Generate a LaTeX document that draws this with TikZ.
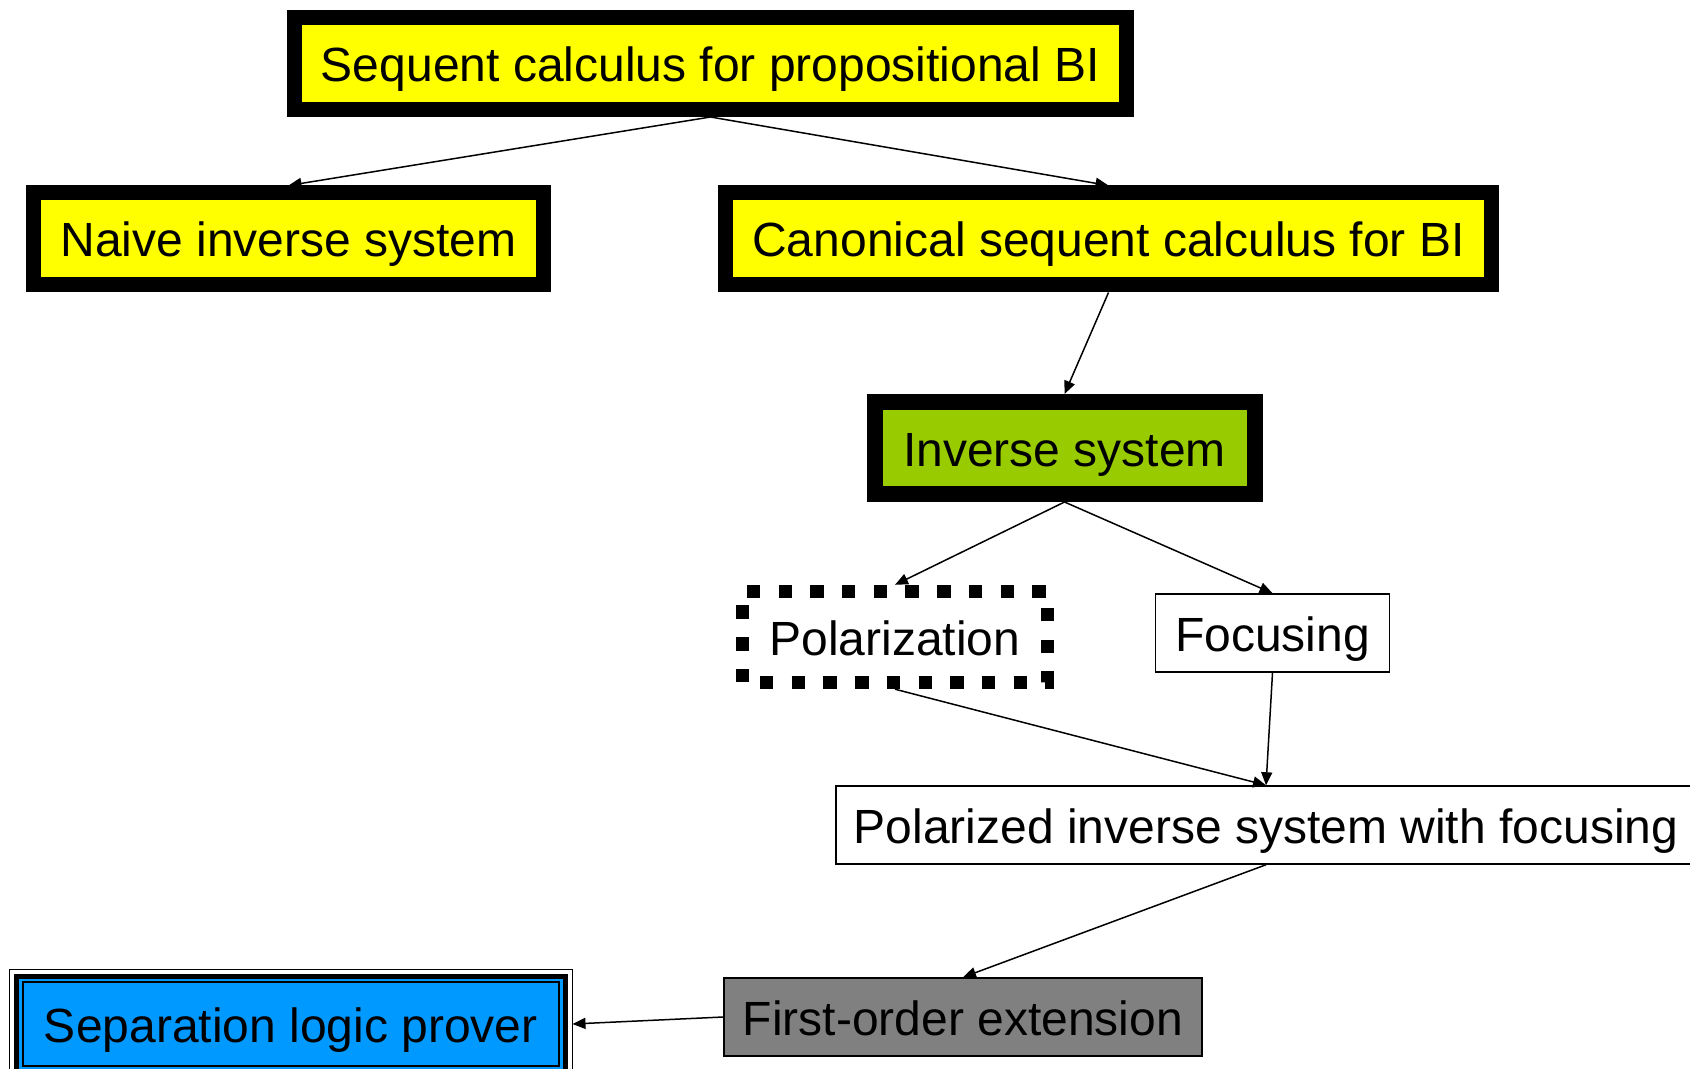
\documentclass[tikz,border=0pt]{standalone}
\usepackage{fontspec}
\setmainfont{Liberation Sans}
\usepackage{tikz}
\usetikzlibrary{arrows.meta, fit, shapes}
\definecolor{biyellow}{HTML}{FFFF00}
\definecolor{invgreen}{HTML}{99CC00}
\definecolor{fogray}{HTML}{808080}
\definecolor{slpblue}{HTML}{0099FF}

\begin{document}
\begin{tikzpicture}[->, >={Triangle[length=6.5pt,width=5.5pt]}, x=0.5pt, y=-0.5pt, line width=0.75pt,
		font=\fontsize{24pt}{28pt}\selectfont,
		box/.style={rectangle, draw, inner sep=0pt, text height=18pt, text depth=0pt},
		thickbox/.style={box, line width=7.5pt, minimum height=46pt},
		thinbox/.style={box, line width=0.75pt, minimum height=39pt},
		dotbox/.style={box, line width=6.7pt, dash pattern=on 6.7pt off 9.15pt, dash phase=7.1pt, minimum width=152.5pt, minimum height=45.5pt}]
		\useasboundingbox (0,0) rectangle (1690,1069);
		
		\node[thickbox, fill=biyellow, minimum width=416pt] (seq) at (710.5,63.5) {Sequent calculus for propositional BI};
		
		\node[thickbox, fill=biyellow, minimum width=255pt] (naive) at (288.5,239) {Naive inverse system};
		\node[thickbox, fill=biyellow, minimum width=383pt] (canon) at (1108.5,239) {Canonical sequent calculus for BI};
		
		\node[thickbox, fill=invgreen, minimum width=190pt, line width=8pt] (inv) at (1064.5,448) {Inverse system};
		
		\node[dotbox] (pol) at (895,637) {Polarization};
		\node[thinbox, minimum width=117pt] (foc) at (1272.5,633) {Focusing};
		
		\node[thinbox, minimum width=430pt] (pif) at (1266,825) {Polarized inverse system with focusing};
		\node[thinbox, fill=fogray, minimum width=239pt] (fo) at (963,1017) {First-order extension};
		
		\node[box, line width=2.5pt, fill=slpblue, minimum width=274.3pt, minimum height=48pt] (slp) at (290.8,1024) {Separation logic prover};
		\draw[-, line width=1pt] ([shift={(4.4pt,-4.4pt)}]slp.north west) rectangle ([shift={(-4.4pt,4.4pt)}]slp.south east);
		\node[fit=(slp), inner sep=2.2pt, draw, line width=0.5pt] (slpframe) {};
		
		%les fleches
		\draw (seq.south) -- (naive.north);
		\draw (seq.south) -- (canon.north);
		\draw (canon.south) -- (inv.north);
		\draw (inv.south) -- (pol.north);
		\draw (inv.south) -- (foc.north);
		\draw (pol.south) -- (pif.north);
		\draw (foc.south) -- (pif.north);
		\draw (pif.south) -- (fo.north);
		\draw (fo.west) -- (slpframe.east);

	\end{tikzpicture}
\end{document}
